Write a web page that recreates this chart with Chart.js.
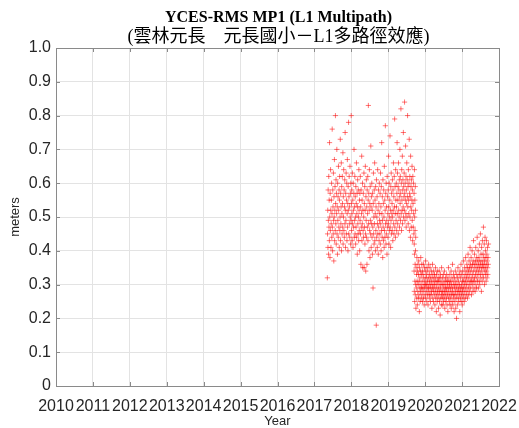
<!DOCTYPE html>
<html>
<head>
<meta charset="utf-8">
<script src="https://cdn.jsdelivr.net/npm/chart.js@4.4.0/dist/chart.umd.min.js"></script>
<style>
html, body { margin: 0; padding: 0; background: #fff; }
#wrap { width: 519px; height: 428px; }
</style>
</head>
<body>
<div id="wrap"><canvas id="mp1Chart" width="519" height="428"></canvas></div>
<script>
// station + labels
const titleText = 'YCES-RMS MP1 (L1 Multipath)';
const subtitleText = '(雲林元長　元長國小－L1多路徑效應)';
const xLabel = 'Year';
const yLabel = 'meters';
const yearTicks = [2010, 2011, 2012, 2013, 2014, 2015, 2016, 2017, 2018, 2019, 2020, 2021, 2022];
const meterTicks = [0, 0.1, 0.2, 0.3, 0.4, 0.5, 0.6, 0.7, 0.8, 0.9, 1.0];

// samples every 2 days
const sampleDays = 2;

// first receiver period (decimal year of first sample)
const startA = 2017.35;
const mp1A = [
  0.32,0.45,0.52,0.41,0.58,0.49,0.39,0.62,0.47,0.55,0.43,0.72,0.50,0.38,0.57,0.46,0.64,0.52,0.41,0.48,
  0.55,0.60,0.44,0.51,0.76,0.47,0.40,0.58,0.53,0.45,0.63,0.49,0.37,0.56,0.50,0.67,0.43,0.52,0.59,0.46,
  0.80,0.54,0.48,0.61,0.42,0.57,0.51,0.70,0.45,0.53,0.39,0.60,0.49,0.56,0.44,0.65,0.52,0.47,0.58,0.41,
  0.55,0.62,0.46,0.50,0.73,0.43,0.57,0.48,0.53,0.66,0.40,0.59,0.51,0.45,0.62,0.54,0.47,0.69,0.42,0.56,
  0.50,0.64,0.46,0.58,0.44,0.53,0.61,0.48,0.75,0.52,0.41,0.57,0.49,0.63,0.45,0.55,0.60,0.43,0.51,0.67,
  0.47,0.54,0.40,0.59,0.52,0.78,0.45,0.56,0.62,0.48,0.53,0.44,0.65,0.50,0.57,0.42,0.60,0.49,0.80,0.54,
  0.46,0.58,0.51,0.43,0.63,0.48,0.55,0.41,0.60,0.52,0.47,0.57,0.70,0.44,0.53,0.49,0.62,0.45,0.56,0.50,
  0.42,0.59,0.47,0.54,0.66,0.44,0.51,0.57,0.39,0.53,0.61,0.48,0.45,0.58,0.50,0.43,0.64,0.52,0.46,0.55,
  0.40,0.57,0.49,0.62,0.45,0.53,0.36,0.58,0.47,0.51,0.68,0.43,0.55,0.48,0.60,0.35,0.52,0.46,0.57,0.44,
  0.50,0.63,0.35,0.54,0.47,0.59,0.42,0.52,0.65,0.45,0.34,0.56,0.49,0.61,0.44,0.53,0.36,0.58,0.47,0.51,
  0.62,0.43,0.55,0.83,0.48,0.57,0.40,0.52,0.64,0.46,0.54,0.38,0.59,0.49,0.45,0.71,0.53,0.41,0.56,0.48,
  0.60,0.44,0.52,0.39,0.57,0.47,0.29,0.54,0.63,0.45,0.50,0.42,0.58,0.48,0.66,0.43,0.55,0.51,0.40,0.59,
  0.46,0.53,0.18,0.61,0.44,0.50,0.56,0.41,0.48,0.64,0.45,0.52,0.39,0.58,0.47,0.54,0.43,0.60,0.49,0.51,
  0.45,0.57,0.42,0.63,0.48,0.53,0.40,0.59,0.46,0.72,0.51,0.44,0.56,0.49,0.38,0.61,0.47,0.54,0.43,0.58,
  0.50,0.41,0.65,0.46,0.55,0.44,0.52,0.77,0.48,0.57,0.42,0.60,0.45,0.53,0.49,0.39,0.62,0.47,0.56,0.51,
  0.44,0.58,0.48,0.68,0.53,0.42,0.60,0.50,0.46,0.55,0.74,0.47,0.52,0.41,0.59,0.49,0.63,0.45,0.57,0.51,
  0.54,0.46,0.61,0.50,0.43,0.58,0.52,0.66,0.48,0.56,0.45,0.62,0.53,0.79,0.47,0.59,0.51,0.44,0.64,0.55,
  0.49,0.60,0.53,0.46,0.57,0.72,0.51,0.63,0.48,0.55,0.59,0.45,0.66,0.52,0.58,0.50,0.61,0.47,0.56,0.70,
  0.54,0.62,0.49,0.57,0.82,0.51,0.60,0.46,0.64,0.55,0.52,0.68,0.48,0.58,0.61,0.53,0.75,0.50,0.59,0.56,
  0.63,0.52,0.84,0.57,0.49,0.60,0.55,0.71,0.51,0.62,0.47,0.58,0.54,0.66,0.50,0.61,0.56,0.80,0.53,0.59,
  0.48,0.64,0.55,0.51,0.60,0.73,0.46,0.57,0.62,0.50,0.56,0.44,0.68,0.53,0.59,0.47,0.61,0.52,0.55,0.65,
  0.49,0.58,0.43,0.62,0.54,0.47,0.60,0.51,0.45,0.57,0.42,0.64,0.50,0.55,0.46,0.59,0.52,0.44
];

// second receiver period
const startB = 2019.70;
const mp1B = [
  0.34,0.28,0.39,0.25,0.31,0.36,0.27,0.40,0.30,0.23,0.35,0.29,0.33,0.26,0.38,0.31,0.24,0.34,0.28,0.36,
  0.30,0.26,0.33,0.37,0.27,0.31,0.22,0.35,0.29,0.32,0.25,0.34,0.28,0.38,0.30,0.26,0.33,0.29,0.36,0.27,
  0.31,0.34,0.25,0.29,0.33,0.28,0.36,0.26,0.32,0.30,0.24,0.35,0.29,0.31,0.27,0.34,0.30,0.37,0.26,0.32,
  0.28,0.33,0.30,0.25,0.35,0.29,0.31,0.27,0.34,0.24,0.32,0.29,0.36,0.28,0.30,0.26,0.33,0.31,0.27,0.35,
  0.29,0.25,0.32,0.30,0.27,0.34,0.28,0.31,0.23,0.33,0.29,0.36,0.26,0.30,0.32,0.28,0.25,0.34,0.29,0.31,
  0.27,0.33,0.30,0.24,0.32,0.28,0.35,0.26,0.31,0.29,0.22,0.33,0.27,0.30,0.25,0.34,0.28,0.31,0.26,0.32,
  0.29,0.23,0.31,0.27,0.34,0.28,0.25,0.32,0.30,0.21,0.29,0.33,0.26,0.31,0.28,0.24,0.35,0.27,0.30,0.26,
  0.32,0.28,0.24,0.30,0.27,0.33,0.25,0.29,0.31,0.26,0.34,0.28,0.23,0.30,0.27,0.32,0.29,0.25,0.31,0.28,
  0.26,0.33,0.29,0.24,0.31,0.27,0.30,0.22,0.32,0.28,0.35,0.26,0.29,0.31,0.25,0.30,0.27,0.33,0.24,0.29,
  0.31,0.26,0.28,0.34,0.23,0.30,0.27,0.32,0.25,0.29,0.36,0.28,0.24,0.31,0.27,0.33,0.26,0.30,0.22,0.29,
  0.32,0.27,0.25,0.30,0.34,0.28,0.23,0.31,0.26,0.29,0.20,0.33,0.27,0.30,0.24,0.32,0.28,0.35,0.26,0.29,
  0.31,0.25,0.28,0.33,0.27,0.30,0.22,0.34,0.29,0.26,0.32,0.28,0.36,0.25,0.30,0.27,0.33,0.29,0.24,0.31,
  0.28,0.34,0.26,0.31,0.29,0.37,0.27,0.32,0.25,0.30,0.35,0.28,0.33,0.26,0.31,0.38,0.29,0.34,0.27,0.32,
  0.30,0.36,0.28,0.33,0.26,0.35,0.31,0.39,0.29,0.34,0.27,0.32,0.37,0.30,0.35,0.28,0.33,0.41,0.31,0.36,
  0.29,0.34,0.38,0.31,0.27,0.35,0.32,0.40,0.30,0.36,0.33,0.28,0.37,0.31,0.43,0.34,0.29,0.36,0.32,0.39,
  0.31,0.35,0.28,0.37,0.33,0.41,0.30,0.36,0.34,0.29,0.38,0.32,0.44,0.35,0.31,0.37,0.33,0.40,0.29,0.36,
  0.34,0.38,0.31,0.42,0.35,0.30,0.37,0.33,0.45,0.36,0.32,0.39,0.34,0.28,0.41,0.35,0.37,0.31,0.43,0.36,
  0.33,0.39,0.35,0.47,0.32,0.38,0.36,0.42,0.30,0.37,0.34,0.44,0.35,0.40,0.33,0.38,0.31,0.36,0.43,0.34,
  0.39,0.32,0.37,0.41,0.35,0.33,0.38,0.36,0.42
];

// daily sample index -> decimal year
const toPoints = (start, vals) => vals.map((v, i) => ({ x: start + i * sampleDays / 365.25, y: v }));

const axisFont = { family: '"Liberation Sans", Arial, sans-serif', size: 16 };
const labelFont = { family: '"Liberation Sans", Arial, sans-serif', size: 13 };

// titles centred over the plot area, like MATLAB does
const plotTitles = {
  id: 'plotTitles',
  afterDraw(chart) {
    const { ctx, chartArea: a } = chart;
    const cx = (a.left + a.right) / 2 + 1;
    ctx.save();
    ctx.fillStyle = '#000';
    ctx.textAlign = 'center';
    ctx.textBaseline = 'middle';
    ctx.font = 'bold 16px "Liberation Serif", "Times New Roman", serif';
    ctx.fillText(titleText, cx, 18);
    ctx.font = '18px "Liberation Serif", "Noto Sans CJK TC", serif';
    ctx.fillText(subtitleText, cx, 37.5);
    ctx.restore();
  }
};

// MATLAB-style box with inward ticks
const boxTicks = {
  id: 'boxTicks',
  afterDraw(chart) {
    const { ctx, chartArea: a, scales: { x, y } } = chart;
    ctx.save();
    ctx.strokeStyle = '#8a8a8a';
    ctx.lineWidth = 1;
    ctx.beginPath();
    yearTicks.forEach(v => {
      const px = Math.round(x.getPixelForValue(v)) + 0.5;
      ctx.moveTo(px, a.bottom); ctx.lineTo(px, a.bottom - 4);
      ctx.moveTo(px, a.top); ctx.lineTo(px, a.top + 4);
    });
    meterTicks.forEach(v => {
      const py = Math.round(y.getPixelForValue(v)) + 0.5;
      ctx.moveTo(a.left, py); ctx.lineTo(a.left + 4, py);
      ctx.moveTo(a.right, py); ctx.lineTo(a.right - 4, py);
    });
    ctx.stroke();
    ctx.strokeRect(Math.round(a.left) + 0.5, Math.round(a.top) + 0.5,
      Math.round(a.right - a.left), Math.round(a.bottom - a.top));
    ctx.restore();
  }
};

const pointStyle = {
  pointStyle: 'cross',
  pointRadius: 2.6,
  pointBorderWidth: 0.8,
  borderColor: 'rgba(255,0,0,0.68)',
  backgroundColor: 'rgba(255,0,0,0.68)',
  showLine: false
};

new Chart(document.getElementById('mp1Chart').getContext('2d'), {
  type: 'scatter',
  data: {
    datasets: [
      Object.assign({ label: 'MP1 A', data: toPoints(startA, mp1A) }, pointStyle),
      Object.assign({ label: 'MP1 B', data: toPoints(startB, mp1B) }, pointStyle)
    ]
  },
  options: {
    responsive: false,
    animation: false,
    layout: { padding: { left: 0, right: 20, top: 48, bottom: 0 } },
    plugins: {
      legend: { display: false },
      tooltip: { enabled: false },
      title: { display: false },
      subtitle: { display: false }
    },
    scales: {
      x: {
        type: 'linear', min: 2010, max: 2022,
        afterFit: s => { s.height = 42; },
        afterBuildTicks: s => { s.ticks = yearTicks.map(v => ({ value: v })); },
        ticks: {
          autoSkip: false, maxRotation: 0, color: '#262626', font: axisFont, padding: 1,
          callback: v => String(v)
        },
        // invisible tick marks just push the labels down
        grid: { color: '#e3e3e3', drawTicks: true, tickLength: 10, tickColor: 'rgba(0,0,0,0)' },
        border: { display: false },
        title: { display: true, text: xLabel, color: '#262626', font: labelFont, padding: { bottom: -1 } }
      },
      y: {
        min: 0, max: 1,
        afterFit: s => { s.width = 56; },
        afterBuildTicks: s => { s.ticks = meterTicks.map(v => ({ value: v })); },
        ticks: {
          color: '#262626', font: axisFont, padding: 5,
          callback: v => (v === 0 ? '0' : v.toFixed(1))
        },
        grid: { color: '#e3e3e3', drawTicks: false },
        border: { display: false },
        title: { display: true, text: yLabel, color: '#262626', font: labelFont, padding: { top: 8 } }
      }
    }
  },
  plugins: [plotTitles, boxTicks]
});
</script>
</body>
</html>
